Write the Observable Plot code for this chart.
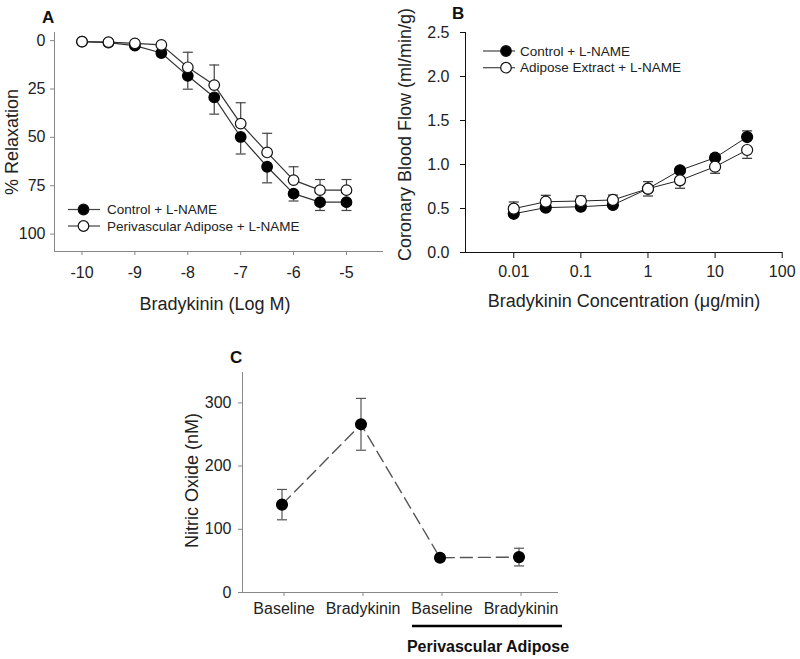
<!DOCTYPE html>
<html><head><meta charset="utf-8">
<script src="https://cdn.jsdelivr.net/npm/d3@7"></script>
<script src="https://cdn.jsdelivr.net/npm/@observablehq/plot@0.6"></script>
<style>
html,body{margin:0;padding:0;background:#fff;}
#fig{position:relative;width:800px;height:659px;font-family:"Liberation Sans",Arial,sans-serif;color:#222;overflow:hidden;}
#fig > div{position:absolute;}
.plab{position:absolute;font-weight:bold;font-size:17px;line-height:1;color:#111;}
svg{overflow:visible;}
</style></head><body><div id="fig"></div>
<script>
// ---------- Panel A data ----------
const aLogM = [-10, -9.5, -9, -8.5, -8, -7.5, -7, -6.5, -6, -5.5, -5];
const aControl = [0.5, 1.0, 2.6, 6.4, 18.2, 29.3, 49.8, 65.2, 79.1, 83.5, 83.5];
const aControlErr = [0, 0, 0, 1.5, 6.9, 8.7, 8.8, 8.3, 3.8, 4.3, 4.3];     // drawn toward larger values
const aAdipose = [0.5, 0.8, 1.4, 2.2, 13.8, 23.0, 42.9, 57.8, 72.1, 77.3, 77.3];
const aAdiposeErr = [0, 0, 0, 0, 7.8, 10.4, 10.8, 9.9, 6.9, 5.5, 5.5];    // drawn toward smaller values
const aXTicks = [-10, -9, -8, -7, -6, -5];
const aYTicks = [0, 25, 50, 75, 100];
const aSeries = ["Control + L-NAME", "Perivascular Adipose + L-NAME"];

// ---------- Panel B data ----------
const bConc = [0.01, 0.03, 0.1, 0.3, 1, 3, 10, 30];
const bControl = [0.44, 0.51, 0.52, 0.54, 0.725, 0.934, 1.077, 1.312];
const bControlErrUp = [0, 0, 0, 0, 0, 0, 0.04, 0.07];
const bControlErrDown = [0.03, 0.03, 0.03, 0.03, 0, 0.03, 0, 0];
const bAdipose = [0.498, 0.577, 0.585, 0.597, 0.725, 0.82, 0.975, 1.165];
const bAdiposeErrUp = [0.076, 0.073, 0.057, 0.056, 0.08, 0, 0, 0];
const bAdiposeErrDown = [0, 0, 0, 0, 0.083, 0.09, 0.075, 0.095];
const bXTicks = [0.01, 0.1, 1, 10, 100];
const bXTickLabels = ["0.01", "0.1", "1", "10", "100"];
const bYTicks = [0, 0.5, 1.0, 1.5, 2.0, 2.5];
const bSeries = ["Control + L-NAME", "Adipose Extract + L-NAME"];

// ---------- Panel C data ----------
const cLabels = ["Baseline", "Bradykinin", "Baseline", "Bradykinin"];
const cNO = [139, 266, 55, 56];
const cErr = [24, 41, 5, 14];
const cYTicks = [0, 100, 200, 300];
const cGroupLabel = "Perivascular Adipose";

// ---------- helpers ----------
const FONT = '"Liberation Sans", Arial, sans-serif';
const capSymbol = {draw(ctx, size) { const w = Math.sqrt(size / Math.PI); ctx.moveTo(-w, 0); ctx.lineTo(w, 0); }};
function rows(xs, ys, up, down) {
  return xs.map((x, i) => ({
    x, y: ys[i],
    hi: ys[i] + (up ? up[i] : 0),
    lo: ys[i] - (down ? down[i] : 0),
    hasHi: !!(up && up[i] > 0),
    hasLo: !!(down && down[i] > 0)
  }));
}
function errMarks(data, stroke, capR = 5) {
  return [
    Plot.ruleX(data.filter(d => d.hi > d.lo), {x: "x", y1: "lo", y2: "hi", stroke, strokeWidth: 1.2}),
    Plot.dot(data.filter(d => d.hasHi), {x: "x", y: "hi", symbol: capSymbol, r: capR, stroke, strokeWidth: 1.2}),
    Plot.dot(data.filter(d => d.hasLo), {x: "x", y: "lo", symbol: capSymbol, r: capR, stroke, strokeWidth: 1.2})
  ];
}
function legend(svg, items, {x0, x1, xm, xt, ys}) {
  const g = d3.select(svg).append("g");
  items.forEach((it, i) => {
    g.append("line").attr("x1", x0).attr("x2", x1).attr("y1", ys[i]).attr("y2", ys[i]).attr("stroke", "#444").attr("stroke-width", 1.2);
    g.append("circle").attr("cx", xm).attr("cy", ys[i]).attr("r", 5.3).attr("fill", it.fill).attr("stroke", "#111").attr("stroke-width", 1.2);
    g.append("text").attr("x", xt).attr("y", ys[i]).attr("dy", "0.35em").attr("text-anchor", "start")
      .attr("font-size", 13.5).attr("fill", "#222").attr("font-family", FONT).text(it.label);
  });
}
function place(el, left, top) {
  const d = document.createElement("div");
  d.style.left = left + "px"; d.style.top = top + "px";
  d.appendChild(el);
  document.getElementById("fig").appendChild(d);
  return el;
}
function letter(t, left, top) {
  const d = document.createElement("div");
  d.className = "plab"; d.textContent = t;
  d.style.left = left + "px"; d.style.top = top + "px";
  document.getElementById("fig").appendChild(d);
}
const baseStyle = {fontFamily: FONT, fontSize: "16px", color: "#222", background: "transparent", overflow: "visible"};

// ---------- Panel A ----------
const aX = [-10.52, -4.3], aY = [-4.2, 109];
const aCtl = rows(aLogM, aControl, aControlErr, null);
const aAdi = rows(aLogM, aAdipose, null, aAdiposeErr);
const plotA = Plot.plot({
  width: 400, height: 320, marginLeft: 54, marginRight: 17, marginTop: 32, marginBottom: 69,
  style: baseStyle,
  x: {domain: aX},
  y: {domain: aY, reverse: true},
  marks: [
    Plot.ruleX([aX[0]], {stroke: "#888"}),
    Plot.ruleY([aY[1]], {stroke: "#888"}),
    Plot.axisX({ticks: aXTicks, tickFormat: d => String(d), tickSize: 4, tickPadding: 11, stroke: "#888", fill: "#222", fontSize: 16, label: null}),
    Plot.axisY({ticks: aYTicks, tickSize: 4, tickPadding: 5, stroke: "#888", fill: "#222", fontSize: 16, label: null}),
    Plot.text(["Bradykinin (Log M)"], {frameAnchor: "bottom", textAnchor: "middle", dy: 58, dx: -4, fontSize: 18, fill: "#222"}),
    Plot.text(["% Relaxation"], {frameAnchor: "left", textAnchor: "middle", rotate: -90, dx: -42, fontSize: 18, fill: "#222"}),
    Plot.line(aCtl, {x: "x", y: "y", stroke: "#333", strokeWidth: 1.2}),
    Plot.line(aAdi, {x: "x", y: "y", stroke: "#333", strokeWidth: 1.2}),
    ...errMarks(aCtl, "#444"),
    ...errMarks(aAdi, "#444"),
    Plot.dot(aCtl, {x: "x", y: "y", r: 5.3, fill: "#000", stroke: "#000", strokeWidth: 1.2}),
    Plot.dot(aAdi, {x: "x", y: "y", r: 5.3, fill: "#fff", stroke: "#111", strokeWidth: 1.2})
  ]
});
place(plotA, 0, 0);
legend(plotA, [{label: aSeries[0], fill: "#000"}, {label: aSeries[1], fill: "#fff"}], {x0: 68, x1: 100, xm: 83.5, xt: 107, ys: [209.5, 226]});

// ---------- Panel B ----------
const bX = [0.00191, 101], bY = [0, 2.5];
const bCtl = rows(bConc, bControl, bControlErrUp, bControlErrDown);
const bAdi = rows(bConc, bAdipose, bAdiposeErrUp, bAdiposeErrDown);
const plotB = Plot.plot({
  width: 400, height: 320, marginLeft: 65, marginRight: 18, marginTop: 32, marginBottom: 68,
  style: baseStyle,
  x: {type: "log", domain: bX},
  y: {domain: bY},
  marks: [
    Plot.ruleX([bX[0]], {stroke: "#111"}),
    Plot.ruleY([bY[0]], {stroke: "#111"}),
    Plot.axisX({ticks: bXTicks, tickFormat: d => bXTickLabels[bXTicks.indexOf(d)], tickSize: 6, tickPadding: 7, stroke: "#111", fill: "#222", fontSize: 16, label: null}),
    Plot.axisY({ticks: bYTicks, tickFormat: d3.format(".1f"), tickSize: 5, tickPadding: 11, stroke: "#111", fill: "#222", fontSize: 16, label: null}),
    Plot.text(["Bradykinin Concentration (\u03bcg/min)"], {frameAnchor: "bottom", textAnchor: "middle", dy: 54, fontSize: 18, fill: "#222"}),
    Plot.text(["Coronary Blood Flow (ml/min/g)"], {frameAnchor: "left", textAnchor: "middle", rotate: -90, dx: -60, dy: -8, fontSize: 18, fill: "#222"}),
    Plot.line(bCtl, {x: "x", y: "y", stroke: "#222", strokeWidth: 1}),
    Plot.line(bAdi, {x: "x", y: "y", stroke: "#222", strokeWidth: 1}),
    ...errMarks(bCtl, "#333"),
    ...errMarks(bAdi, "#333"),
    Plot.dot(bCtl, {x: "x", y: "y", r: 5.5, fill: "#000", stroke: "#000", strokeWidth: 1.2}),
    Plot.dot(bAdi, {x: "x", y: "y", r: 5.5, fill: "#fff", stroke: "#111", strokeWidth: 1.2})
  ]
});
place(plotB, 400, 0);
legend(plotB, [{label: bSeries[0], fill: "#000"}, {label: bSeries[1], fill: "#fff"}], {x0: 83, x1: 115, xm: 106, xt: 120, ys: [51, 67.7]});

// ---------- Panel C ----------
const cX = [-0.5, 3.5], cY = [0, 348];
const cIdx = cLabels.map((_, i) => i);
const cRows = rows(cIdx, cNO, cErr, cErr);
const plotC = Plot.plot({
  width: 390, height: 319, marginLeft: 52, marginRight: 22, marginTop: 32, marginBottom: 67,
  style: baseStyle,
  x: {domain: cX},
  y: {domain: cY},
  marks: [
    Plot.ruleX([cX[0]], {stroke: "#888"}),
    Plot.ruleY([cY[0]], {stroke: "#888"}),
    Plot.axisX({ticks: cIdx, tickFormat: i => cLabels[i], tickSize: 4, tickPadding: 6, stroke: "#888", fill: "#222", fontSize: 16, dx: 2, label: null}),
    Plot.axisY({ticks: cYTicks, tickSize: 4, tickPadding: 7, stroke: "#888", fill: "#222", fontSize: 16, label: null}),
    Plot.text(["Nitric Oxide (nM)"], {frameAnchor: "left", textAnchor: "middle", rotate: -90, dx: -50, dy: -2, fontSize: 18, fill: "#222"}),
    Plot.line(cRows, {x: "x", y: "y", stroke: "#555", strokeWidth: 1.4, strokeDasharray: "12,6"}),
    ...errMarks(cRows, "#555"),
    Plot.dot(cRows, {x: "x", y: "y", r: 5.3, fill: "#000", stroke: "#000"})
  ]
});
place(plotC, 190, 340);
{
  const g = d3.select(plotC).append("g");
  g.append("line").attr("x1", 222).attr("x2", 372).attr("y1", 286).attr("y2", 286).attr("stroke", "#000").attr("stroke-width", 2.6);
  g.append("text").attr("x", 298).attr("y", 306).attr("dy", "0.35em").attr("text-anchor", "middle")
    .attr("font-size", 16).attr("font-weight", "bold").attr("fill", "#111").attr("font-family", FONT).text(cGroupLabel);
}

letter("A", 42, 9);
letter("B", 452, 5);
letter("C", 230, 349);
</script></body></html>
